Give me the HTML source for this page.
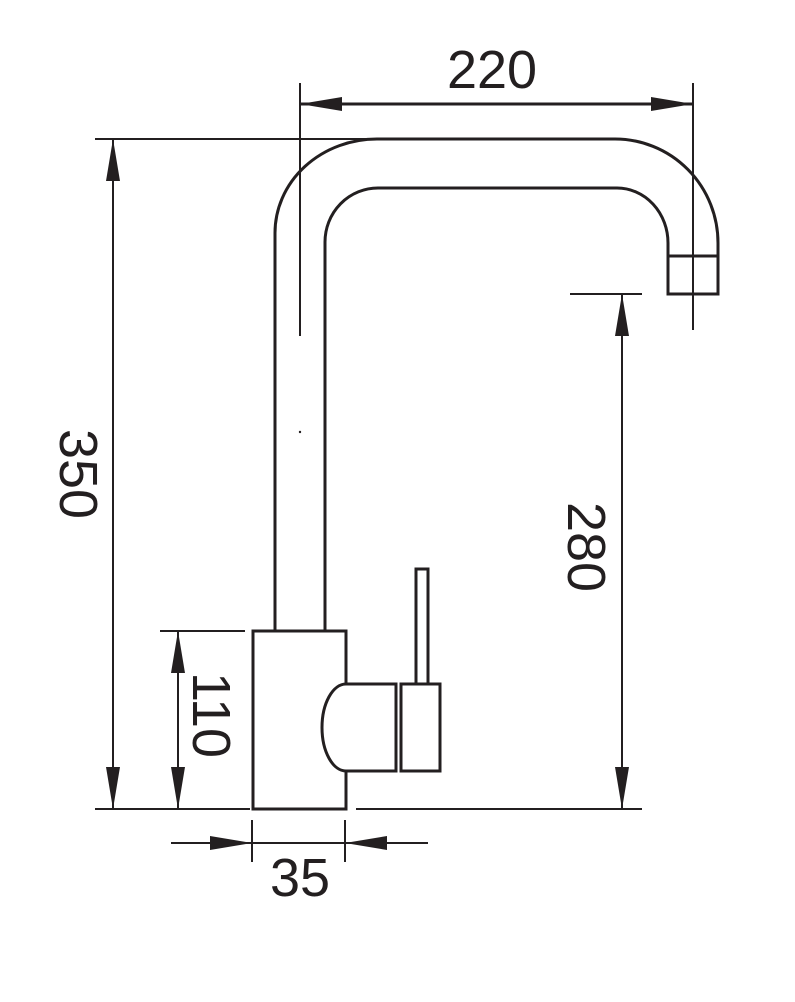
<!DOCTYPE html>
<html><head><meta charset="utf-8"><style>
html,body{margin:0;padding:0;background:#fff;}
svg{display:block;}
text{font-family:"Liberation Sans",sans-serif;font-size:54px;fill:#231f20;}
</style></head><body>
<svg width="795" height="1002" viewBox="0 0 795 1002" xmlns="http://www.w3.org/2000/svg">
<g stroke="#231f20" stroke-width="3" fill="none">
<path d="M275,631 L275,233 A102,94 0 0 1 377,139 L615,139 A103,104 0 0 1 718,243 L718,294 L668,294 L668,243"/>
<path d="M325,631 L325,242 A53,54 0 0 1 378,188 L617,188 A51,55 0 0 1 668,243"/>
<line x1="668" y1="256" x2="718" y2="256"/>
<rect x="253" y="631" width="93" height="178"/>
<path d="M346,684 L396,684 L396,771 L346,771 A24,43.5 0 0 1 346,684 Z" fill="#fff"/>
<rect x="401" y="684" width="39" height="87"/>
<rect x="416" y="569" width="12" height="115"/>
<line x1="346" y1="686" x2="346" y2="769" stroke="#fff" stroke-width="2"/>
</g>
<g stroke="#231f20" stroke-width="2" fill="none">
<line x1="300" y1="83" x2="300" y2="336"/>
<line x1="693" y1="83" x2="693" y2="330"/>
<line x1="300" y1="104" x2="693" y2="104" stroke-width="3"/>
<line x1="95" y1="139" x2="370" y2="139"/>
<line x1="113" y1="139" x2="113" y2="809"/>
<line x1="95" y1="809" x2="250" y2="809"/>
<line x1="356" y1="809" x2="642" y2="809"/>
<line x1="160" y1="631" x2="245" y2="631"/>
<line x1="178" y1="631" x2="178" y2="809"/>
<line x1="570" y1="294" x2="642" y2="294"/>
<line x1="622" y1="294" x2="622" y2="809"/>
<line x1="252" y1="820" x2="252" y2="862"/>
<line x1="345" y1="820" x2="345" y2="862"/>
<line x1="171" y1="843" x2="428" y2="843"/>
</g>
<g fill="#231f20">
<polygon points="300,104 342,97 342,111"/>
<polygon points="693,104 651,97 651,111"/>
<polygon points="113,139 106,181 120,181"/>
<polygon points="113,809 106,767 120,767"/>
<polygon points="178,631 171,673 185,673"/>
<polygon points="178,809 171,767 185,767"/>
<polygon points="622,294 615,336 629,336"/>
<polygon points="622,809 615,767 629,767"/>
<polygon points="252,843 210,836 210,850"/>
<polygon points="345,843 387,836 387,850"/>
<circle cx="300" cy="432" r="1.2"/>
</g>
<text x="492" y="88" text-anchor="middle">220</text>
<text x="300" y="896" text-anchor="middle">35</text>
<text transform="translate(60,474) rotate(90)" text-anchor="middle">350</text>
<text transform="translate(568,547) rotate(90)" text-anchor="middle">280</text>
<text transform="translate(193,715) rotate(90)" text-anchor="middle">110</text>
</svg>
</body></html>
